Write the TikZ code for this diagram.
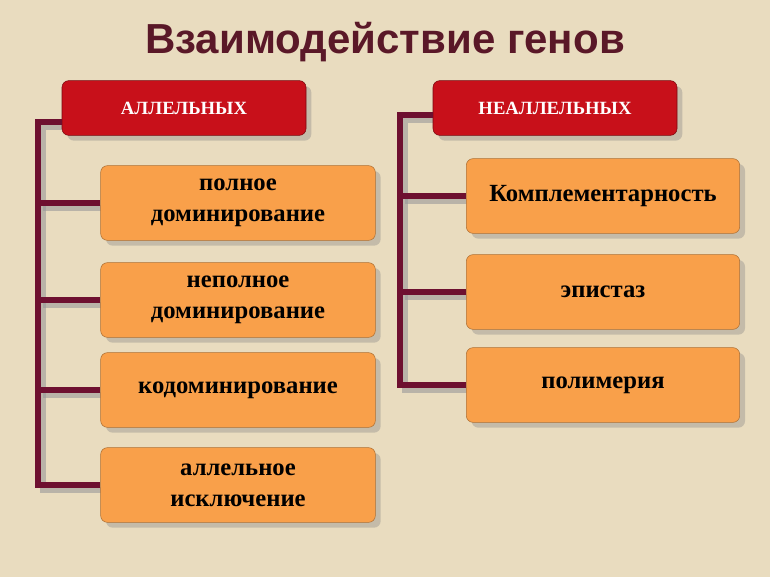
\documentclass[tikz,border=0pt]{standalone}
\usepackage{fontspec}
\setmainfont{Liberation Serif}
\newfontfamily\titlefont{Liberation Sans}
\usetikzlibrary{shadows}
\definecolor{bg}{HTML}{E9DCBF}
\definecolor{maroon}{HTML}{6E1030}
\definecolor{redbox}{HTML}{C8101A}
\definecolor{orbox}{HTML}{F9A04A}
\definecolor{titlec}{HTML}{5A1828}
\tikzset{
 hdr/.style={draw=redbox!60!black, fill=redbox, rounded corners=5pt, text=white, font=\bfseries\fontsize{14}{16}\selectfont, minimum width=183pt, minimum height=41pt, drop shadow={shadow xshift=4pt,shadow yshift=-4pt,opacity=0.35}},
 item/.style={draw=orbox!70!black, fill=orbox, rounded corners=5pt, font=\bfseries\fontsize{18.5}{23}\selectfont, align=center, minimum width=206pt, minimum height=56pt, drop shadow={shadow xshift=4pt,shadow yshift=-4pt,opacity=0.35}},
 ritem/.style={item, minimum width=205pt},
 conn/.style={draw=maroon, line width=4pt},
 connsh/.style={draw=black!40, line width=4pt, opacity=0.6}
}
\begin{document}
\begin{tikzpicture}[x=0.75pt,y=-0.75pt]
\fill[bg] (0,0) rectangle (770,577);
\node[font=\titlefont\bfseries\fontsize{31.5}{36}\selectfont, text=titlec] (title) at (385,42) {Взаимодействие генов};
\coordinate (lt) at (38,122); \coordinate (lb) at (38,485);
\coordinate (rt) at (400,115); \coordinate (rb) at (400,385);
\begin{scope}[shift={(5,5)}]
\draw[connsh] (62,122) -- (38,122) -- (38,485) -- (100,485);
\foreach \y in {203,300,390} \draw[connsh] (38,\y) -- (100,\y);
\draw[connsh] (433,115) -- (400,115) -- (400,385) -- (466,385);
\foreach \y in {196,292} \draw[connsh] (400,\y) -- (466,\y);
\end{scope}
\node[hdr] (a) at (184,108) {АЛЛЕЛЬНЫХ};
\node[hdr] (n) at (555,108) {НЕАЛЛЕЛЬНЫХ};
\node[item] (a1) at (238,203) {полное\\доминирование};
\node[item] (a2) at (238,300) {неполное\\доминирование};
\node[item] (a3) at (238,390) {кодоминирование};
\node[item] (a4) at (238,485) {аллельное\\исключение};
\node[ritem] (n1) at (603,196) {Комплементарность};
\node[ritem] (n2) at (603,292) {эпистаз};
\node[ritem] (n3) at (603,385) {полимерия};
\draw[conn] (a.west |- lt) -- (lt) -- (lb) -- (a4.west);
\foreach \b in {a1,a2,a3} \draw[conn] (lt |- \b.west) -- (\b.west);
\draw[conn] (n.west |- rt) -- (rt) -- (rb) -- (n3.west);
\foreach \b in {n1,n2} \draw[conn] (rt |- \b.west) -- (\b.west);
\end{tikzpicture}
\end{document}
